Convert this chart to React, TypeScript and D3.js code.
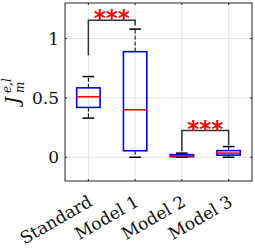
import * as d3 from "d3";
import { useEffect, useRef } from "react";

// box plot summary
const groups = ["Standard", "Model 1", "Model 2", "Model 3"];
const whiskerLow = [0.33, 0.0, 0.0, 0.0];
const q1 = [0.42, 0.055, 0.005, 0.018];
const medians = [0.51, 0.40, 0.012, 0.035];
const q3 = [0.585, 0.89, 0.022, 0.056];
const whiskerHigh = [0.68, 1.08, 0.035, 0.09];

// significance brackets: group indices, bar level, leg ends
const bracketPairs = [[0, 1], [2, 3]];
const bracketLevel = [1.155, 0.225];
const bracketLegLeft = [0.86, 0.05];
const bracketLegRight = [1.11, 0.10];
const bracketLabel = ["***", "***"];

const yTicks = [0, 0.5, 1];

export default function App() {
  const svgRef = useRef(null);
  const width = 255;
  const height = 248;
  const marginLeft = 65;
  const marginRight = 3;
  const marginTop = 3;
  const marginBottom = 67;

  useEffect(() => {
    const svg = d3.select(svgRef.current);
    svg.selectAll("*").remove();

    const x = d3.scaleLinear()
      .domain([0.5, groups.length + 0.5])
      .range([marginLeft, width - marginRight]);
    const y = d3.scaleLinear()
      .domain([-0.2, 1.3])
      .range([height - marginBottom, marginTop]);

    const font = "DejaVu Serif, serif";
    const x0 = x.range()[0], x1 = x.range()[1];
    const y0 = y.range()[0], y1 = y.range()[1];

    // grid
    const grid = svg.append("g").attr("stroke", "#e3e3e3").attr("stroke-width", 1);
    yTicks.forEach(t => {
      grid.append("line").attr("x1", x0).attr("x2", x1)
        .attr("y1", y(t)).attr("y2", y(t));
    });
    groups.forEach((g, i) => {
      grid.append("line").attr("x1", x(i + 1)).attr("x2", x(i + 1))
        .attr("y1", y0).attr("y2", y1);
    });

    // boxes
    const bw = 0.25;
    const cw = 0.125;
    groups.forEach((g, i) => {
      const cx = x(i + 1);
      const b = svg.append("g");
      // whiskers
      b.append("line").attr("x1", cx).attr("x2", cx)
        .attr("y1", y(q3[i])).attr("y2", y(whiskerHigh[i]))
        .attr("stroke", "black").attr("stroke-width", 1)
        .attr("stroke-dasharray", "4,2");
      b.append("line").attr("x1", cx).attr("x2", cx)
        .attr("y1", y(q1[i])).attr("y2", y(whiskerLow[i]))
        .attr("stroke", "black").attr("stroke-width", 1)
        .attr("stroke-dasharray", "4,2");
      [whiskerHigh[i], whiskerLow[i]].forEach(v => {
        b.append("line")
          .attr("x1", x(i + 1 - cw)).attr("x2", x(i + 1 + cw))
          .attr("y1", y(v)).attr("y2", y(v))
          .attr("stroke", "black").attr("stroke-width", 1.5);
      });
      b.append("rect")
        .attr("x", x(i + 1 - bw))
        .attr("width", x(i + 1 + bw) - x(i + 1 - bw))
        .attr("y", y(q3[i]))
        .attr("height", Math.max(y(q1[i]) - y(q3[i]), 0.5))
        .attr("fill", "none")
        .attr("stroke", "#0000ff").attr("stroke-width", 1.6);
      b.append("line")
        .attr("x1", x(i + 1 - bw)).attr("x2", x(i + 1 + bw))
        .attr("y1", y(medians[i])).attr("y2", y(medians[i]))
        .attr("stroke", "#ff0000").attr("stroke-width", 1.6);
    });

    // significance brackets
    bracketPairs.forEach(([a, c], k) => {
      const xa = x(a + 1), xc = x(c + 1);
      svg.append("path")
        .attr("d", d3.line()([
          [xa, y(bracketLegLeft[k])],
          [xa, y(bracketLevel[k])],
          [xc, y(bracketLevel[k])],
          [xc, y(bracketLegRight[k])]
        ]))
        .attr("fill", "none")
        .attr("stroke", "#333").attr("stroke-width", 1.5);
      svg.append("text")
        .attr("x", (xa + xc) / 2)
        .attr("y", y(bracketLevel[k]) + 6)
        .attr("text-anchor", "middle")
        .attr("font-family", "DejaVu Sans, sans-serif")
        .attr("font-weight", "bold")
        .attr("font-size", 23)
        .attr("fill", "#ff0000")
        .text(bracketLabel[k]);
    });

    // axes box
    svg.append("rect")
      .attr("x", x0).attr("y", y1)
      .attr("width", x1 - x0).attr("height", y0 - y1)
      .attr("fill", "none").attr("stroke", "#262626").attr("stroke-width", 1);

    // ticks (inward)
    const tk = svg.append("g").attr("stroke", "#262626").attr("stroke-width", 1);
    yTicks.forEach(t => {
      tk.append("line").attr("x1", x0).attr("x2", x0 + 2).attr("y1", y(t)).attr("y2", y(t));
      tk.append("line").attr("x1", x1).attr("x2", x1 - 2).attr("y1", y(t)).attr("y2", y(t));
    });
    groups.forEach((g, i) => {
      tk.append("line").attr("x1", x(i + 1)).attr("x2", x(i + 1)).attr("y1", y0).attr("y2", y0 - 2);
      tk.append("line").attr("x1", x(i + 1)).attr("x2", x(i + 1)).attr("y1", y1).attr("y2", y1 + 2);
    });

    // y tick labels
    svg.append("g")
      .selectAll("text")
      .data(yTicks)
      .enter()
      .append("text")
      .attr("x", x0 - 6)
      .attr("y", d => y(d))
      .attr("dy", "0.36em")
      .attr("text-anchor", "end")
      .attr("font-family", font)
      .attr("font-size", 17)
      .attr("fill", "#111")
      .text(d => d3.format("~g")(d));

    // x tick labels, rotated
    svg.append("g")
      .selectAll("text")
      .data(groups)
      .enter()
      .append("text")
      .attr("transform", (d, i) => `translate(${x(i + 1) + 5}, ${y0 + 24}) rotate(-30)`)
      .attr("text-anchor", "end")
      .attr("font-family", font)
      .attr("font-size", 17)
      .attr("fill", "#111")
      .text(d => d);

    // y label J_m^{e,l}
    const yl = svg.append("g")
      .attr("transform", `translate(${19}, ${88}) rotate(-90)`)
      .attr("font-family", font)
      .attr("font-style", "italic")
      .attr("fill", "#111");
    yl.append("text").attr("x", -16).attr("y", 0).attr("font-size", 18).text("J");
    yl.append("text").attr("x", -5).attr("y", -8).attr("font-size", 12).text("e,l");
    yl.append("text").attr("x", -5).attr("y", 5).attr("font-size", 12).text("m");
  }, []);

  return (
    <div style={{ position: "absolute", left: 0, top: 0 }}>
      <svg ref={svgRef} width={width} height={height} style={{ display: "block", background: "white" }} />
    </div>
  );
}
